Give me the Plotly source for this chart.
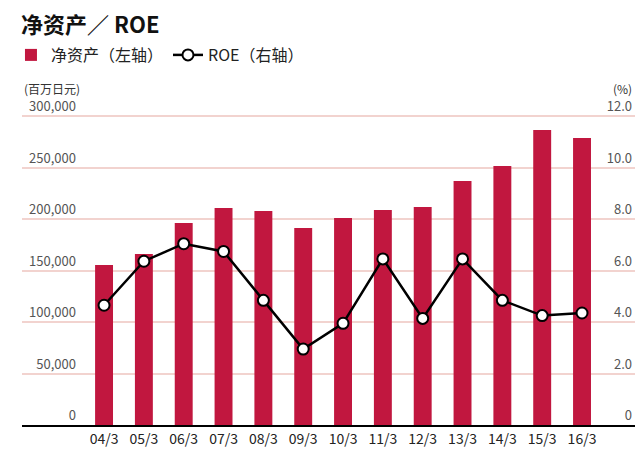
import plotly.graph_objects as go

categories = ["04/3", "05/3", "06/3", "07/3", "08/3", "09/3", "10/3",
              "11/3", "12/3", "13/3", "14/3", "15/3", "16/3"]
net_assets = [155300, 166000, 196100, 210700, 207800, 191300, 201000,
              208700, 211700, 236900, 251500, 286400, 278600]
roe = [4.65, 6.36, 7.04, 6.74, 4.84, 2.95, 3.95,
       6.45, 4.14, 6.45, 4.84, 4.25, 4.35]

left_ticks = [0, 50000, 100000, 150000, 200000, 250000, 300000]
right_ticks = [0, 2, 4, 6, 8, 10, 12]
right_ticktext = ["0", "2.0", "4.0", "6.0", "8.0", "10.0", "12.0"]

BAR = "#c1173f"
GRID = "#f2d3cf"
FONT = "Noto Sans CJK SC"

# plot area extends ~20px above the 300,000 gridline so the top labels fit
TOP_PAD = 329 / 309

fig = go.Figure()
fig.add_trace(go.Bar(
    x=categories, y=net_assets, name="净资产（左轴）",
    marker=dict(color=BAR, line=dict(width=0)), width=0.45,
))
fig.add_trace(go.Scatter(
    x=categories, y=roe, name="ROE（右轴）", yaxis="y2",
    mode="lines+markers",
    line=dict(color="#000000", width=2.5),
    marker=dict(symbol="circle", size=11, color="#ffffff",
                line=dict(color="#000000", width=2)),
))

fig.update_layout(
    width=636, height=450,
    margin=dict(l=22, r=1, t=96, b=25, autoexpand=False),
    paper_bgcolor="#ffffff", plot_bgcolor="#ffffff",
    font=dict(family=FONT, color="#555555", size=13),
    title=dict(text="<b>净资产／ ROE</b>", x=21/636, xanchor="left",
               xref="container", y=1-25/450, yanchor="middle", yref="container",
               font=dict(size=22, color="#111111", family=FONT)),
    showlegend=True,
    legend=dict(orientation="h", x=-0.018, xanchor="left", xref="paper",
                y=1-55/450, yanchor="middle", yref="container",
                font=dict(size=16, color="#222222", family=FONT),
                itemwidth=30, traceorder="normal", bgcolor="rgba(0,0,0,0)"),
    xaxis=dict(type="category", range=[-2.06, 13.33], showgrid=False,
               showline=True, linecolor="#000000", linewidth=2,
               ticks="", tickfont=dict(size=14, color="#222222"),
               fixedrange=True),
    yaxis=dict(range=[0, 300000 * TOP_PAD], tickvals=left_ticks, tickformat=",",
               showgrid=True, gridcolor=GRID, gridwidth=1.5,
               zeroline=False, showline=False, ticks="",
               ticklabelposition="outside top", ticklabelstandoff=-55,
               tickfont=dict(size=13, color="#555555")),
    yaxis2=dict(range=[0, 12 * TOP_PAD], tickvals=right_ticks, ticktext=right_ticktext,
                overlaying="y", side="right", showgrid=False,
                zeroline=False, showline=False, ticks="",
                ticklabelposition="inside top",
                tickfont=dict(size=13, color="#555555")),
    annotations=[
        dict(text="(百万日元)", xref="paper", yref="y", x=0, y=300000,
             xanchor="left", yanchor="middle", yshift=28, showarrow=False,
             font=dict(size=12, color="#333333")),
        dict(text="(%)", xref="paper", yref="y", x=1, y=300000,
             xanchor="right", yanchor="middle", yshift=28, xshift=-1,
             showarrow=False, font=dict(size=12, color="#333333")),
    ],
)

fig.write_html(
    "out.html",
    config={"displayModeBar": False},
    post_script="document.body.style.margin='0';document.body.style.overflow='hidden';",
)
